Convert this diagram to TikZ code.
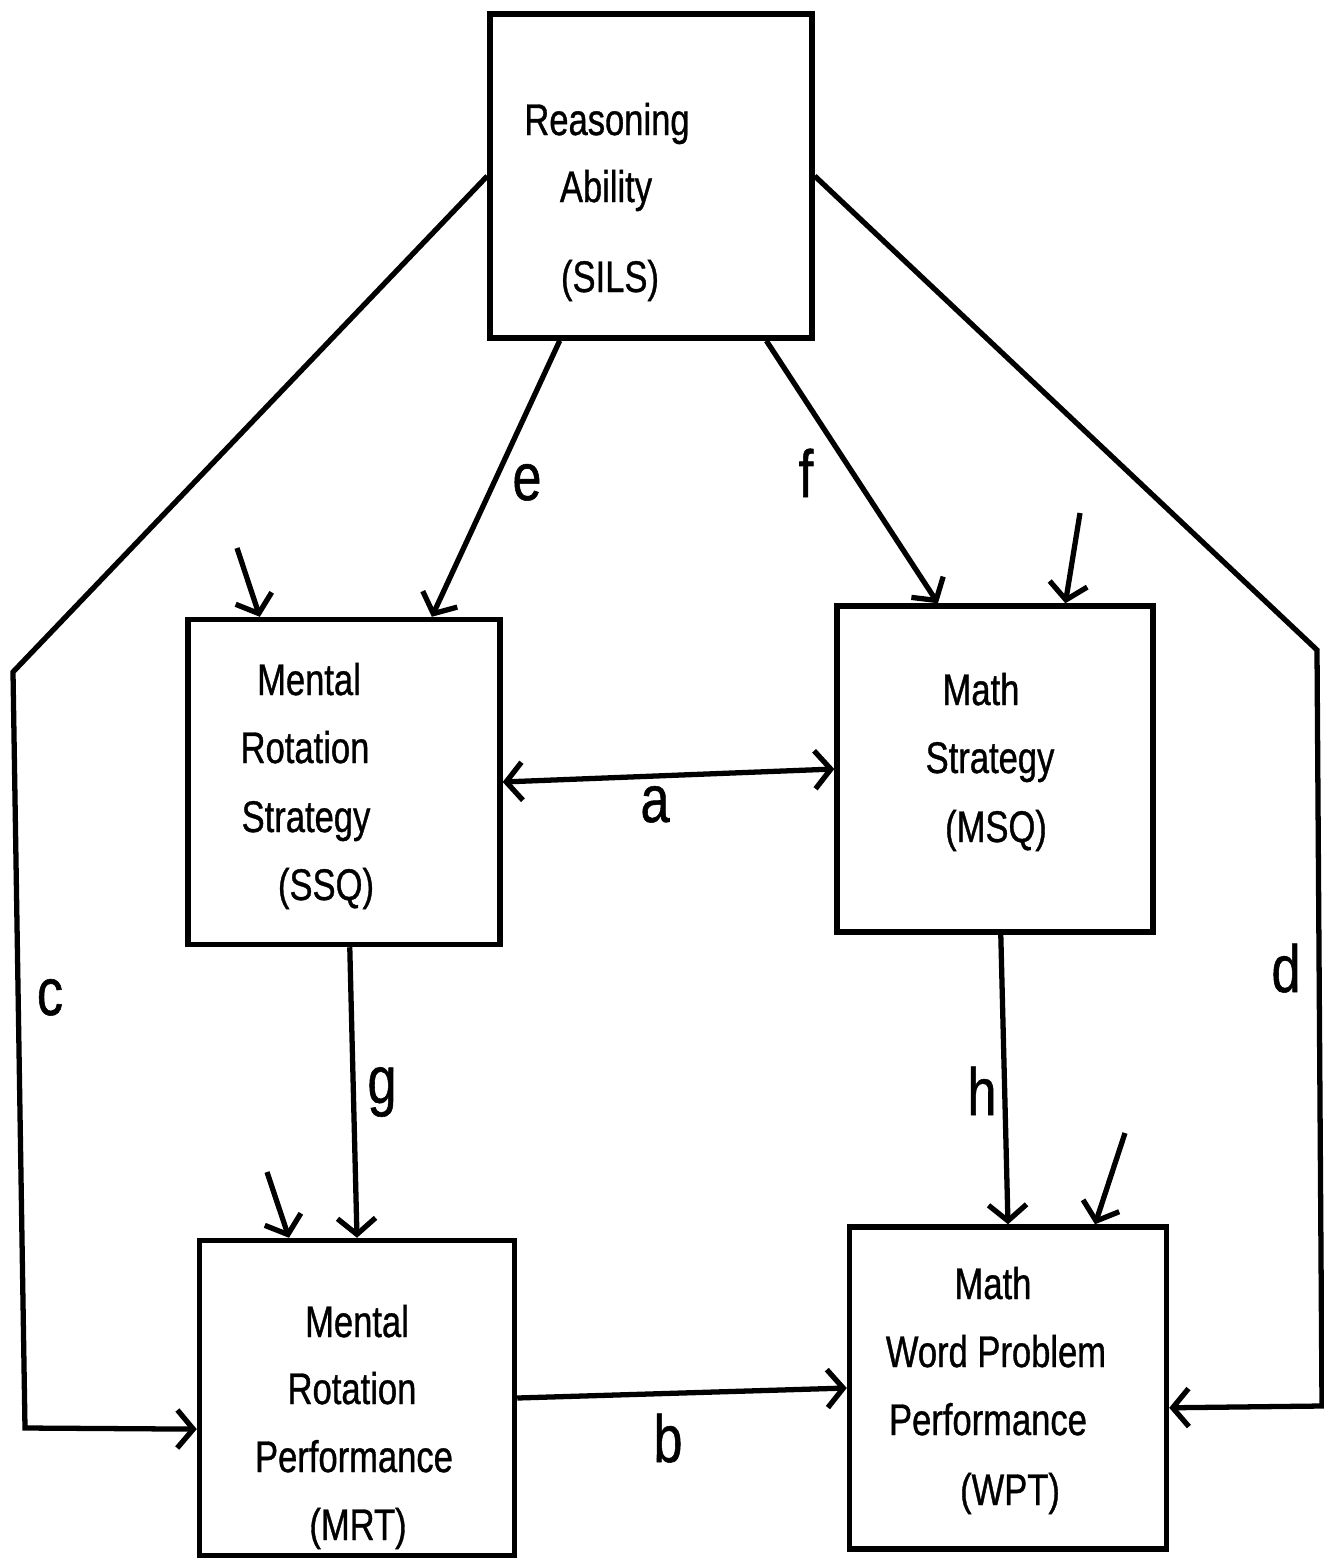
\documentclass[tikz,border=0pt]{standalone}
\usepackage{fontspec}
\setmainfont{Liberation Sans}[FakeStretch=0.78,FakeBold=0.8]
\usetikzlibrary{arrows.meta}

\begin{document}
\begin{tikzpicture}[x=0.01cm, y=-0.01cm, line width=1.5pt,
  >={Straight Barb[length=1.6mm,width=3.8mm]},
  box/.style={draw, rectangle, inner sep=0pt},
  txt/.style={anchor=base, inner sep=0pt, font=\fontsize{12.6}{15}\selectfont},
  lbl/.style={anchor=base, inner sep=0pt, font=\fontsize{19}{22}\selectfont}]

\useasboundingbox (0,0) rectangle (1324,1560);

% boxes
  \node[box, minimum width=3.22cm, minimum height=3.24cm] (sils) at (651,176) {};
  \node[txt] (sils1) at (607,135) {Reasoning};
  \node[txt] (sils2) at (606,202) {Ability};
  \node[txt] (sils3) at (610,292) {(SILS)};
%
  \node[box, minimum width=3.12cm, minimum height=3.25cm] (ssq) at (344,782) {};
  \node[txt] (ssq1) at (309,695) {Mental};
  \node[txt] (ssq2) at (305,763) {Rotation};
  \node[txt] (ssq3) at (306,832) {Strategy};
  \node[txt] (ssq4) at (326,900) {(SSQ)};
%
  \node[box, minimum width=3.16cm, minimum height=3.26cm] (msq) at (995,769) {};
  \node[txt] (msq1) at (981,705) {Math};
  \node[txt] (msq2) at (990,773) {Strategy};
  \node[txt] (msq3) at (996,842) {(MSQ)};
%
  \node[box, minimum width=3.15cm, minimum height=3.15cm] (mrt) at (357,1398) {};
  \node[txt] (mrt1) at (357,1337) {Mental};
  \node[txt] (mrt2) at (352,1404) {Rotation};
  \node[txt] (mrt3) at (354,1472) {Performance};
  \node[txt] (mrt4) at (358,1540) {(MRT)};
%
  \node[box, minimum width=3.17cm, minimum height=3.22cm] (wpt) at (1008,1388) {};
  \node[txt] (wpt1) at (993,1299) {Math};
  \node[txt] (wpt2) at (996,1367) {Word Problem};
  \node[txt] (wpt3) at (988,1435) {Performance};
  \node[txt] (wpt4) at (1010,1505) {(WPT)};

% paths
  \coordinate (cbend) at (13,672);
  \coordinate (cfoot) at (25,1428);
  \coordinate (dbend) at (1317,650);
  \coordinate (dfoot) at (1322,1406);
  \draw[->] (sils.west) -- (cbend) -- (cfoot) -- (mrt.191);
  \draw[->] (sils.east) -- (dbend) -- (dfoot) -- (wpt.-7);
  \draw[->] (sils.-119) -- (ssq.62);
  \draw[->] (sils.-55) -- (msq.109);
  \draw[<->] (ssq.east) -- (msq.west);
  \draw[->] (ssq.-88) -- (mrt.north);
  \draw[->] (msq.-88) -- (wpt.north);
  \draw[->] (mrt.east) -- (wpt.west);

% residual arrows
  \coordinate (essq) at (237,548);
  \coordinate (emsq) at (1080,513);
  \coordinate (emrt) at (267,1172);
  \coordinate (ewpt) at (1125,1133);
  \draw[->] (essq) -- (ssq.117);
  \draw[->] (emsq) -- (msq.67);
  \draw[->] (emrt) -- (mrt.113);
  \draw[->] (ewpt) -- (wpt.62);

% labels
  \node[lbl] (la) at (655,822) {a};
  \node[lbl] (lb) at (668,1462) {b};
  \node[lbl] (lc) at (50,1015) {c};
  \node[lbl] (ld) at (1286,992) {d};
  \node[lbl] (le) at (527,500) {e};
  \node[lbl] (lf) at (806,497) {f};
  \node[lbl] (lg) at (382,1103) {g};
  \node[lbl] (lh) at (982,1115) {h};

\end{tikzpicture}
\end{document}
